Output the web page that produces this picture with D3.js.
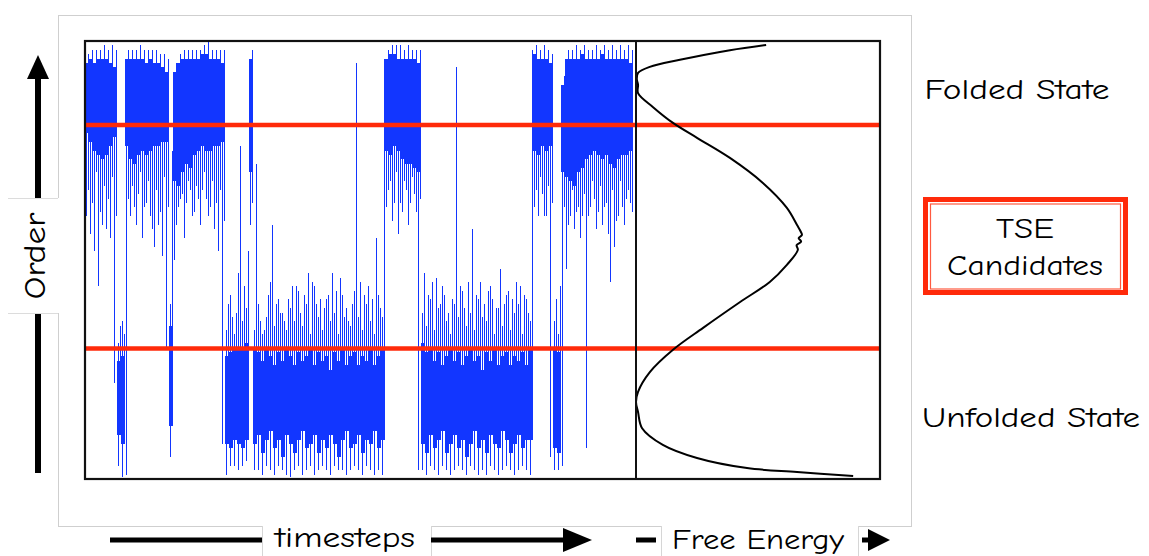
<!DOCTYPE html>
<html>
<head>
<meta charset="utf-8">
<script src="https://cdn.jsdelivr.net/npm/d3@7"></script>
<style>
  body { margin: 0; background: #fff; }
  text { font-family: "Comic Sans MS", "Comic Neue", "DejaVu Sans", sans-serif; fill: #000; }
</style>
</head>
<body>
<svg id="chart" width="1149" height="556"></svg>
<script>
// order parameter trace, binned every 4 timesteps
// per bin: highest spike, top of dense band, bottom of dense band, lowest spike
const spikeHi = [
  97, 98, 98, 98, 99, 98, 99, 98,            // folded
  35, 33,                                    // unfolded dip
  98, 98, 98, 99, 98, 98, 98, 98, 97, 97, 96, // folded
  75,                                        // unfolded dip
  95, 97, 98, 98, 98, 98, 98, 99, 100, 98, 98, 98, 98, // folded
  40, 37, 38, 76, 44, 52,                    // unfolded
  98,                                        // folded
  72, 36, 34, 42, 58, 40, 38, 36, 41, 44, 44, 38, 42, 47, 45, 40,
  41, 39, 42, 47, 43, 46, 37, 36, 40, 95, 45, 42, 44, 41, 55, 39, 96, // unfolded
  98, 99, 99, 99, 98, 99, 98, 98, 98,        // folded
  47, 42, 45, 46, 40, 42, 38, 41, 94, 44, 39, 45, 57, 42, 45, 40,
  43, 41, 39, 48, 40, 43, 41, 45, 44, 42, 38, 98, // unfolded
  99, 98, 99, 98, 97,                        // folded
  41, 44,                                    // unfolded
  92, 98, 98, 99, 98, 99, 98, 98, 99, 98, 99, 98, 99, 98, 99, 98, 99, 98, // folded
  null
];
const coreHi = [
  95, 96, 95, 96, 96, 96, 95, 94,
  27, 28,
  96, 96, 96, 96, 96, 95, 96, 95, 95, 94, 93,
  35,
  93, 95, 96, 96, 96, 96, 96, 97, 97, 96, 96, 96, 95,
  28, 29, 30, 30, 30, 31,
  96,
  30, 29, 27, 30, 28, 26, 29, 27, 30, 28, 26, 29, 27, 28, 30, 26,
  29, 27, 28, 25, 29, 27, 30, 26, 28, 29, 26, 28, 27, 30, 26, 28, 30,
  96, 97, 97, 96, 96, 96, 96, 96, 95,
  31, 29, 30, 27, 29, 26, 28, 30, 27, 29, 26, 28, 30, 27, 28, 25,
  29, 27, 30, 26, 28, 29, 26, 28, 27, 29, 26, 30,
  97, 96, 96, 96, 95,
  30, 29,
  90, 96, 96, 96, 96, 97, 96, 96, 96, 96, 97, 96, 96, 96, 96, 96, 96, 95,
  null
];
const coreLo = [
  79, 77, 75, 74, 73, 74, 76, 78,
  10, 8,
  76, 73, 72, 74, 75, 74, 75, 76, 76, 77, 77,
  12,
  68, 67, 70, 72, 71, 74, 75, 76, 75, 75, 76, 76, 77,
  8, 7, 9, 8, 7, 9,
  70,
  8, 10, 6, 9, 11, 7, 9, 5, 10, 8, 6, 9, 11, 7, 8, 10,
  6, 9, 7, 10, 8, 5, 9, 11, 7, 8, 10, 6, 9, 8, 11, 7, 9,
  75, 74, 76, 75, 73, 72, 72, 71, 70,
  8, 6, 10, 7, 9, 11, 6, 8, 10, 7, 9, 5, 8, 11, 7, 9,
  6, 10, 8, 7, 11, 9, 6, 8, 10, 7, 9, 9,
  75, 74, 76, 75, 76,
  7, 6,
  70, 69, 68, 67, 70, 71, 73, 74, 75, 74, 73, 74, 72, 71, 73, 74, 74, 75,
  null
];
const spikeLo = [
  60, 56, 52, 44, 58, 57, 55, 22,
  3, 0.5,
  1, 60, 62, 65, 55, 63, 60, 53, 58, 51, 30,
  5,
  50, 62, 65, 63, 66, 61, 64, 66, 64, 62, 57, 52, 8,
  1, 3, 3, 2, 3, 4,
  58,
  2, 2, 1, 3, 2, 1, 3, 2, 1, 0.5, 2, 3, 1, 2, 3, 1,
  2, 3, 2, 1, 3, 2, 2, 1, 2, 3, 2, 1, 3, 2, 1, 2, 1,
  62, 68, 63, 56, 61, 66, 63, 65, 2,
  2, 1, 3, 2, 1, 3, 2, 1, 2, 3, 2, 1, 3, 2, 1, 2,
  1, 3, 2, 1, 2, 3, 2, 1, 2, 3, 2, 1,
  62, 60, 65, 60, 5,
  2, 2,
  3, 48, 60, 57, 62, 60, 7, 62, 64, 61, 58, 63, 45, 53, 60, 62, 64, 63,
  null
];
// second, shorter excursion per bin (below the band when folded, above it when unfolded)
const spike2 = [
  66, 63, 70, 61, 67, 64, 69, 60,
  31, 36,
  64, 67, 58, 70, 62, 68, 57, 66, 61, 69, 62,
  40,
  58, 64, 55, 68, 60, 67, 58, 70, 60, 68, 63, 66, 59,
  34, 42, 33, 47, 36, 39,
  63,
  34, 40, 33, 37, 45, 35, 41, 38, 34, 39, 36, 43, 35, 40, 33, 44,
  37, 34, 41, 36, 38, 33, 42, 39, 35, 43, 37, 34, 40, 36, 33, 42, 37,
  66, 59, 70, 63, 68, 58, 69, 61, 64,
  38, 35, 41, 34, 39, 44, 36, 33, 40, 37, 43, 35, 38, 34, 41, 37,
  36, 44, 33, 39, 35, 42, 34, 38, 40, 33, 41, 36,
  66, 69, 60, 67, 63,
  36, 33,
  62, 58, 66, 61, 55, 65, 60, 68, 57, 67, 62, 56, 66, 59, 68, 58, 66, 61,
  null
];
const binWidth = 4;

// transition state ensemble boundaries (order)
const tseBounds = [29.8, 80.8];

// free energy profile along the order parameter
const feOrder = [99.1, 97.9, 95.7, 94.1, 92.7, 91.3, 90.0, 88.1, 84.9, 81.3, 77.9, 73.3, 67.6, 61.9,
  58.0, 56.5, 55.7, 55.0, 54.2, 53.4, 52.3, 48.9, 45.0, 40.4, 34.5, 29.5, 24.4, 19.9, 17.6,
  15.3, 11.6, 7.8, 4.8, 2.5, 1.6, 0.7];
const feValue = [3.20, 2.31, 1.08, 0.34, 0.05, 0.02, 0.05, 0.05, 0.42, 0.91, 1.50, 2.31, 3.12, 3.71,
  3.96, 4.05, 4.08, 4.00, 4.06, 3.95, 3.98, 3.71, 3.29, 2.56, 1.65, 0.91, 0.34, 0.05, 0.0,
  0.05, 0.15, 0.66, 1.50, 2.73, 3.96, 5.34];

const stateLabels = ["Folded State", "Unfolded State"];
const tseLabel = ["TSE", "Candidates"];

const svg = d3.select('#chart');

const xScale = d3.scaleLinear().domain([0, spikeHi.length * binWidth]).range([85, 637]);
const yScale = d3.scaleLinear().domain([0, 100]).range([479, 41]);
const feScale = d3.scaleLinear().domain([0, 6]).range([636, 880]);

// light slide frame
svg.append('rect')
    .attr('x', 58.5).attr('y', 15.5).attr('width', 853).attr('height', 511)
    .attr('fill', 'none').attr('stroke', '#cfcfcf').attr('stroke-width', 1);

const bins = d3.range(spikeHi.length)
    .map(i => ({t: i * binWidth, sh: spikeHi[i], ch: coreHi[i], cl: coreLo[i], sl: spikeLo[i], s2: spike2[i]}))
    .filter(d => d.ch != null);

const trace = svg.append('g');
const blue = '#1236ff';
const bw = xScale(binWidth) - xScale(0);

trace.selectAll('rect.core')
    .data(bins)
    .enter()
    .append('rect')
    .attr('class', 'core')
    .attr('x', d => xScale(d.t))
    .attr('width', bw)
    .attr('y', d => yScale(d.ch))
    .attr('height', d => yScale(d.cl) - yScale(d.ch))
    .attr('fill', blue)
    .attr('shape-rendering', 'crispEdges');

function spikes(cls, xOff, from, to) {
  trace.selectAll('line.' + cls)
      .data(bins)
      .enter()
      .append('line')
      .attr('class', cls)
      .attr('x1', d => xScale(d.t) + xOff(d)).attr('x2', d => xScale(d.t) + xOff(d))
      .attr('y1', d => yScale(from(d))).attr('y2', d => yScale(to(d)))
      .attr('stroke', blue).attr('stroke-width', 1.1)
      .attr('shape-rendering', 'crispEdges');
}
spikes('down', d => 1.5, d => d.cl, d => d.sl);
spikes('up', d => 3.5, d => d.ch, d => d.sh);
// secondary excursion: downward when it sits below the band, upward otherwise
spikes('second', d => d.s2 < d.cl ? 3.5 : 1.5, d => d.s2 < d.cl ? d.cl : d.ch, d => d.s2);

// TSE boundary lines
svg.append('g').selectAll('line')
    .data(tseBounds)
    .enter()
    .append('line')
    .attr('x1', 85).attr('x2', 880)
    .attr('y1', d => yScale(d)).attr('y2', d => yScale(d))
    .attr('stroke', '#ff2a0a').attr('stroke-width', 4.5);

// free energy curve
const feLine = d3.line()
    .x(d => feScale(d[1]))
    .y(d => yScale(d[0]))
    .curve(d3.curveCatmullRom);
svg.append('path')
    .datum(feOrder.map((o, i) => [o, feValue[i]]))
    .attr('d', feLine)
    .attr('fill', 'none')
    .attr('stroke', '#000')
    .attr('stroke-width', 2);

// plot frames
svg.append('rect')
    .attr('x', 85).attr('y', 41).attr('width', 795).attr('height', 438)
    .attr('fill', 'none').attr('stroke', '#111').attr('stroke-width', 2.2);
svg.append('line')
    .attr('x1', 636).attr('x2', 636).attr('y1', 41).attr('y2', 479)
    .attr('stroke', '#111').attr('stroke-width', 2);

// Order axis arrow
svg.append('line')
    .attr('x1', 38).attr('x2', 38).attr('y1', 473).attr('y2', 76)
    .attr('stroke', '#000').attr('stroke-width', 6);
svg.append('path')
    .attr('d', 'M27,79 L49,79 L38,55 Z')
    .attr('fill', '#000');
svg.append('rect')
    .attr('x', 8).attr('y', 198).attr('width', 52).attr('height', 115)
    .attr('fill', '#fff');
svg.append('g').selectAll('line')
    .data([198.5, 313.5])
    .enter()
    .append('line')
    .attr('x1', 8).attr('x2', 58).attr('y1', d => d).attr('y2', d => d)
    .attr('stroke', '#dcdcdc');
svg.append('text')
    .attr('transform', 'translate(35,256) rotate(-90)')
    .attr('text-anchor', 'middle')
    .attr('dominant-baseline', 'central')
    .attr('font-size', 30)
    .attr('textLength', 87)
    .attr('lengthAdjust', 'spacingAndGlyphs')
    .text('Order');

// bottom arrows and labels
const labelBoxes = [[262, 431], [661, 858]];
svg.append('g').selectAll('rect')
    .data(labelBoxes)
    .enter()
    .append('rect')
    .attr('x', d => d[0]).attr('y', 523).attr('width', d => d[1] - d[0]).attr('height', 33)
    .attr('fill', '#fff');
svg.append('g').selectAll('line')
    .data(labelBoxes.flat())
    .enter()
    .append('line')
    .attr('x1', d => d + 0.5).attr('x2', d => d + 0.5).attr('y1', 526).attr('y2', 556)
    .attr('stroke', '#d6d6d6');

const arrowSegs = [[110, 262], [431, 566], [636, 656], [862, 872]];
svg.append('g').selectAll('line')
    .data(arrowSegs)
    .enter()
    .append('line')
    .attr('x1', d => d[0]).attr('x2', d => d[1]).attr('y1', 540).attr('y2', 540)
    .attr('stroke', '#000').attr('stroke-width', 5);
svg.append('path').attr('d', 'M563,528 L563,552 L592,540 Z').attr('fill', '#000');
svg.append('path').attr('d', 'M868,529 L868,551 L890,540 Z').attr('fill', '#000');

svg.append('text')
    .attr('x', 345).attr('y', 538)
    .attr('text-anchor', 'middle').attr('dominant-baseline', 'central')
    .attr('font-size', 28)
    .attr('textLength', 140).attr('lengthAdjust', 'spacingAndGlyphs')
    .text('timesteps');
svg.append('text')
    .attr('x', 758).attr('y', 540)
    .attr('text-anchor', 'middle').attr('dominant-baseline', 'central')
    .attr('font-size', 28)
    .attr('textLength', 172).attr('lengthAdjust', 'spacingAndGlyphs')
    .text('Free Energy');

// state labels on the right
svg.append('text')
    .attr('x', 1017).attr('y', 90)
    .attr('text-anchor', 'middle').attr('dominant-baseline', 'central')
    .attr('font-size', 28)
    .attr('textLength', 185).attr('lengthAdjust', 'spacingAndGlyphs')
    .text(stateLabels[0]);
svg.append('text')
    .attr('x', 1031).attr('y', 418)
    .attr('text-anchor', 'middle').attr('dominant-baseline', 'central')
    .attr('font-size', 28)
    .attr('textLength', 218).attr('lengthAdjust', 'spacingAndGlyphs')
    .text(stateLabels[1]);

// TSE candidates box
svg.append('rect')
    .attr('x', 925.5).attr('y', 199.5).attr('width', 200).attr('height', 93)
    .attr('fill', '#fff').attr('stroke', '#ff2a0a').attr('stroke-width', 5);
svg.append('rect')
    .attr('x', 930.5).attr('y', 204).attr('width', 190).attr('height', 85)
    .attr('fill', 'none').attr('stroke', '#ff5a40').attr('stroke-width', 1.2);
svg.append('g').selectAll('text')
    .data(tseLabel)
    .enter()
    .append('text')
    .attr('x', 1025)
    .attr('y', (d, i) => 229 + i * 37)
    .attr('text-anchor', 'middle').attr('dominant-baseline', 'central')
    .attr('font-size', 28)
    .attr('textLength', (d, i) => i === 0 ? 58 : 156)
    .attr('lengthAdjust', 'spacingAndGlyphs')
    .text(d => d);
</script>
</body>
</html>
